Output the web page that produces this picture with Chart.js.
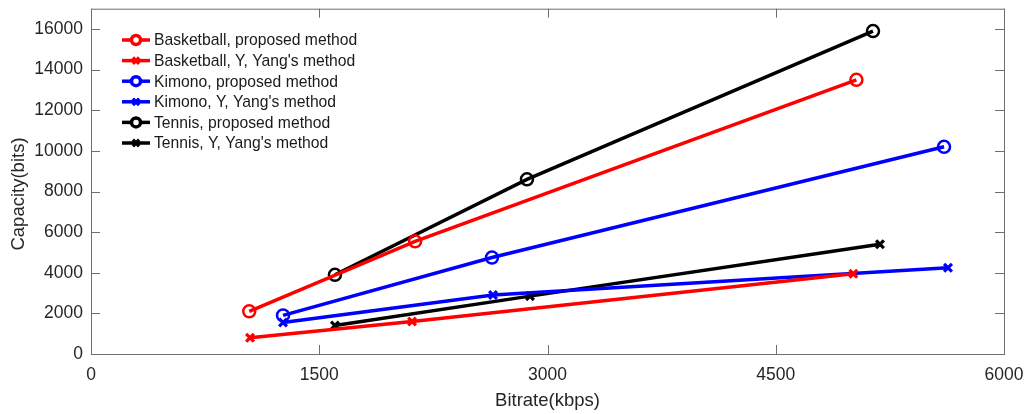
<!DOCTYPE html>
<html>
<head>
<meta charset="utf-8">
<script src="https://cdn.jsdelivr.net/npm/chart.js@4"></script>
<style>
  html, body { margin: 0; padding: 0; background: #fff; }
  #wrap { width: 1028px; height: 414px; }
</style>
</head>
<body>
<div id="wrap"><canvas id="chart-capacity" width="1028" height="414"></canvas></div>
<script>
/* Data */

var seriesNames = [
	"Basketball, proposed method",
	"Basketball, Y, Yang's method",
	"Kimono, proposed method",
	"Kimono, Y, Yang's method",
	"Tennis, proposed method",
	"Tennis, Y, Yang's method"
];

var basketballProposedX = [ 1040, 2130, 5030 ];
var basketballProposedY = [ 2100, 5550, 13500 ];
var basketballYangX = [ 1045, 2110, 5010 ];
var basketballYangY = [ 800, 1600, 3950 ];

var kimonoProposedX = [ 1262, 2635, 5606 ];
var kimonoProposedY = [ 1900, 4750, 10200 ];
var kimonoYangX = [ 1262, 2642, 5632 ];
var kimonoYangY = [ 1550, 2900, 4250 ];

var tennisProposedX = [ 1603, 2865, 5139 ];
var tennisProposedY = [ 3900, 8600, 15900 ];
var tennisYangX = [ 1603, 2885, 5185 ];
var tennisYangY = [ 1400, 2850, 5400 ];

var xTicks = [ 0, 1500, 3000, 4500, 6000 ];
var yTicks = [ 0, 2000, 4000, 6000, 8000, 10000, 12000, 14000, 16000 ];

var xTitle = 'Bitrate(kbps)';
var yTitle = 'Capacity(bits)';

function points( xs, ys ) {
	return xs.map(function( x, i ) { return { x: x, y: ys[i] }; });
}

function series( name, xs, ys, color, marker ) {
	var isCircle = marker === 'circle';
	return {
		label: name,
		data: points( xs, ys ),
		borderColor: color,
		backgroundColor: 'rgba(0,0,0,0)',
		pointBorderColor: color,
		pointBackgroundColor: 'rgba(0,0,0,0)',
		pointStyle: isCircle ? 'circle' : 'crossRot',
		pointRadius: isCircle ? 6 : 5.5,
		pointBorderWidth: isCircle ? 2.5 : 3.2,
		borderWidth: 3.5,
		tension: 0
	};
}

/* Plugins */

var axisColor = '#6e6e6e';
var textColor = '#262626';
var fontFamily = '"Liberation Sans", Arial, sans-serif';

var boxPlugin = {
	id: 'matlabBox',
	afterDatasetsDraw: function( chart ) {
		var ctx = chart.ctx, a = chart.chartArea;
		var xs = chart.scales.x, ys = chart.scales.y;
		ctx.save();
		ctx.strokeStyle = axisColor;
		ctx.lineWidth = 1;
		ctx.strokeRect( a.left + 0.5, a.top + 0.5, a.right - a.left, a.bottom - a.top );
		ctx.beginPath();
		xTicks.forEach(function( v ) {
			var px = Math.round( xs.getPixelForValue( v ) ) + 0.5;
			ctx.moveTo( px, a.bottom ); ctx.lineTo( px, a.bottom - 9 );
			ctx.moveTo( px, a.top ); ctx.lineTo( px, a.top + 9 );
		});
		yTicks.forEach(function( v ) {
			var py = Math.round( ys.getPixelForValue( v ) ) + 0.5;
			ctx.moveTo( a.left, py ); ctx.lineTo( a.left + 9, py );
			ctx.moveTo( a.right, py ); ctx.lineTo( a.right - 9, py );
		});
		ctx.stroke();

		// y axis title, drawn by hand to sit where the reference has it
		ctx.fillStyle = textColor;
		ctx.font = '18.5px ' + fontFamily;
		ctx.textAlign = 'center';
		ctx.textBaseline = 'middle';
		ctx.translate( 19, 194 );
		ctx.rotate( -Math.PI / 2 );
		ctx.fillText( yTitle, 0, 0 );
		ctx.restore();
	}
};

var legendPlugin = {
	id: 'insideLegend',
	afterDraw: function( chart ) {
		var ctx = chart.ctx;
		var x0 = 122, y0 = 40, rowH = 20.6;
		ctx.save();
		ctx.font = '15.7px ' + fontFamily;
		ctx.textBaseline = 'middle';
		chart.data.datasets.forEach(function( ds, i ) {
			var y = y0 + i * rowH;
			ctx.strokeStyle = ds.borderColor;
			ctx.lineWidth = 3.5;
			ctx.beginPath();
			ctx.moveTo( x0, y ); ctx.lineTo( x0 + 28, y );
			ctx.stroke();
			ctx.fillStyle = '#ffffff';
			Chart.helpers.drawPoint( ctx, {
				pointStyle: ds.pointStyle,
				radius: ds.pointStyle === 'circle' ? 4.5 : 4.5,
				borderWidth: ds.pointBorderWidth
			}, x0 + 14, y );
			ctx.fillStyle = '#1a1a1a';
			ctx.fillText( ds.label, x0 + 32, y + 1 );
		});
		ctx.restore();
	}
};

/* Chart */

var ctxcapacity = document.getElementById("chart-capacity").getContext('2d');
var myChart = new Chart(ctxcapacity, {
	type: 'line',
	data: {
		datasets: [
			series( seriesNames[0], basketballProposedX, basketballProposedY, '#ff0000', 'circle' ),
			series( seriesNames[1], basketballYangX, basketballYangY, '#ff0000', 'cross' ),
			series( seriesNames[2], kimonoProposedX, kimonoProposedY, '#0000ff', 'circle' ),
			series( seriesNames[3], kimonoYangX, kimonoYangY, '#0000ff', 'cross' ),
			series( seriesNames[4], tennisProposedX, tennisProposedY, '#000000', 'circle' ),
			series( seriesNames[5], tennisYangX, tennisYangY, '#000000', 'cross' )
		]
	},
	options: {
		responsive: false,
		animation: false,
		layout: { padding: { top: 8, right: 24, left: 0, bottom: 0 } },
		plugins: { legend: { display: false }, tooltip: { enabled: false } },
		scales: {
			x: {
				type: 'linear',
				min: 0, max: 6000,
				grid: { display: false },
				border: { display: false },
				afterBuildTicks: function( s ) { s.ticks = xTicks.map(function( v ) { return { value: v }; }); },
				afterFit: function( s ) { s.height = 60; s.paddingLeft = 0; s.paddingRight = 0; },
				ticks: {
					color: textColor,
					padding: 3,
					callback: function( v ) { return String( v ); },
					font: { family: fontFamily, size: 17.5 }
				},
				title: {
					display: true, text: xTitle, color: textColor,
					padding: { top: 0, bottom: 2 },
					font: { family: fontFamily, size: 18.5 }
				}
			},
			y: {
				type: 'linear',
				min: 0, max: 17000,
				grid: { display: false },
				border: { display: false },
				afterBuildTicks: function( s ) { s.ticks = yTicks.map(function( v ) { return { value: v }; }); },
				afterFit: function( s ) { s.width = 91; s.paddingTop = 0; s.paddingBottom = 0; },
				ticks: {
					color: textColor,
					padding: 0,
					callback: function( v ) { return String( v ); },
					font: { family: fontFamily, size: 17.5 }
				}
			}
		}
	},
	plugins: [ boxPlugin, legendPlugin ]
});
</script>
</body>
</html>
